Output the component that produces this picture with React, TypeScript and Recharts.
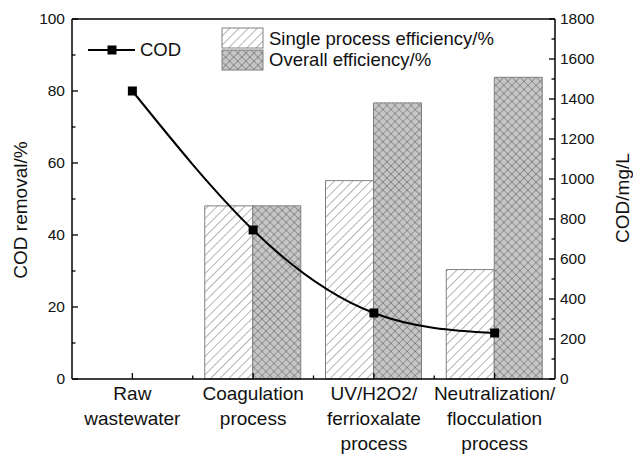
import React from "react";
import { ComposedChart, Bar, Line, XAxis, YAxis, ReferenceLine } from "recharts";

document.body.style.margin = "0";

const stages = ["Raw\nwastewater", "Coagulation\nprocess", "UV/H2O2/\nferrioxalate\nprocess", "Neutralization/\nflocculation\nprocess"];
const singleEff = [null, 48.1, 55.1, 30.4];
const overallEff = [null, 48.1, 76.7, 83.8];
const codValues = [1440, 745, 330, 230];
const leftTicks = [0, 10, 20, 30, 40, 50, 60, 70, 80, 90, 100];
const rightTicks = [0, 100, 200, 300, 400, 500, 600, 700, 800, 900, 1000, 1100, 1200, 1300, 1400, 1500, 1600, 1700, 1800];

const data = stages.map((stage, i) => ({
  stage,
  single: singleEff[i],
  overall: overallEff[i],
  cod: codValues[i],
}));

const FONT = "'Liberation Sans', Arial, sans-serif";

const LeftTick = (props: any) => {
  const { x, y, payload } = props;
  const major = payload.value % 20 === 0;
  return (
    <g>
      <line x1={x} x2={x + (major ? 6 : 3.5)} y1={y} y2={y} stroke="#000" strokeWidth={1.3} />
      {major && (
        <text x={x - 7} y={y} dy={5} textAnchor="end" fontSize={15.5} fontFamily={FONT} fill="#111">
          {payload.value}
        </text>
      )}
    </g>
  );
};

const RightTick = (props: any) => {
  const { x, y, payload } = props;
  const major = payload.value % 200 === 0;
  return (
    <g>
      <line x1={x} x2={x - (major ? 6 : 3.5)} y1={y} y2={y} stroke="#000" strokeWidth={1.3} />
      {major && (
        <text x={x + 5} y={y} dy={5} textAnchor="start" fontSize={15.5} fontFamily={FONT} fill="#111">
          {payload.value}
        </text>
      )}
    </g>
  );
};

const XTick = (props: any) => {
  const { x, y, payload, index } = props;
  const half = payload.offset || 60;
  const lines = String(payload.value).split("\n");
  return (
    <g>
      <line x1={x} x2={x} y1={y} y2={y - 6} stroke="#000" strokeWidth={1.3} />
      {index < stages.length - 1 && (
        <line x1={x + half} x2={x + half} y1={y} y2={y - 3.5} stroke="#000" strokeWidth={1.3} />
      )}
      <text x={x} y={y} textAnchor="middle" fontSize={19} fontFamily={FONT} fill="#111">
        {lines.map((l, i) => (
          <tspan key={i} x={x} dy={i === 0 ? 21 : 25}>
            {l}
          </tspan>
        ))}
      </text>
    </g>
  );
};

const SquareDot = (props: any) => {
  const { cx, cy, index } = props;
  return <rect key={index} x={cx - 4.5} y={cy - 4.5} width={9} height={9} fill="#000" />;
};

export default function App() {
  return (
    <div style={{ position: "relative", width: 633, height: 454, fontFamily: FONT, background: "#fff" }}>
      <ComposedChart
        width={633}
        height={454}
        data={data}
        margin={{ top: 19, right: 0, bottom: 0, left: 0 }}
        barGap={0}
      >
        <XAxis
          dataKey="stage"
          height={75}
          interval={0}
          axisLine={{ stroke: "#000", strokeWidth: 1.5 }}
          tickLine={false}
          tickSize={0}
          tickMargin={0}
          tick={<XTick />}
        />
        <YAxis
          yAxisId="left"
          domain={[0, 100]}
          ticks={leftTicks}
          interval={0}
          width={72}
          axisLine={{ stroke: "#000", strokeWidth: 1.5 }}
          tickLine={false}
          tickSize={0}
          tickMargin={0}
          tick={<LeftTick />}
        />
        <YAxis
          yAxisId="right"
          orientation="right"
          domain={[0, 1800]}
          ticks={rightTicks}
          interval={0}
          width={78}
          axisLine={{ stroke: "#000", strokeWidth: 1.5 }}
          tickLine={false}
          tickSize={0}
          tickMargin={0}
          tick={<RightTick />}
        />
        <ReferenceLine yAxisId="left" y={100} stroke="#000" strokeWidth={1.5} />
        <Bar yAxisId="left" dataKey="single" barSize={48} fill="url(#hatch)" stroke="#808080" strokeWidth={1} isAnimationActive={false} />
        <Bar yAxisId="left" dataKey="overall" barSize={48} fill="url(#cross)" stroke="#808080" strokeWidth={1} isAnimationActive={false} />
        <Line
          yAxisId="right"
          type="natural"
          dataKey="cod"
          stroke="#000"
          strokeWidth={2}
          dot={<SquareDot />}
          activeDot={false}
          isAnimationActive={false}
        />
      </ComposedChart>
      <svg
        width={633}
        height={454}
        style={{ position: "absolute", left: 0, top: 0, pointerEvents: "none" }}
      >
        <defs>
          <pattern id="hatch" width="6.5" height="6.5" patternUnits="userSpaceOnUse" patternTransform="rotate(45)">
            <rect width="6.5" height="6.5" fill="#fff" />
            <line x1="0" y1="0" x2="0" y2="6.5" stroke="#6a6a6a" strokeWidth="1" />
          </pattern>
          <pattern id="cross" width="5.7" height="5.7" patternUnits="userSpaceOnUse" patternTransform="rotate(45)">
            <rect width="5.7" height="5.7" fill="#c6c6c6" />
            <line x1="0" y1="0" x2="0" y2="5.7" stroke="#555" strokeWidth="0.9" />
            <line x1="0" y1="0" x2="5.7" y2="0" stroke="#555" strokeWidth="0.9" />
          </pattern>
        </defs>
        {/* axis titles */}
        <text x={20} y={210} transform="rotate(-90 20 210)" textAnchor="middle" dominantBaseline="central" fontSize={19} fontFamily={FONT} fill="#111">
          COD removal/%
        </text>
        <text x={622} y={198} transform="rotate(-90 622 198)" textAnchor="middle" dominantBaseline="central" fontSize={19} fontFamily={FONT} fill="#111">
          COD/mg/L
        </text>
        {/* legend */}
        <line x1={88} x2={135} y1={50} y2={50} stroke="#000" strokeWidth={2} />
        <rect x={107.5} y={45.5} width={9} height={9} fill="#000" />
        <text x={140} y={56} fontSize={18.5} fontFamily={FONT} fill="#111">COD</text>
        <rect x={222} y={28} width={41} height={20} fill="url(#hatch)" stroke="#808080" />
        <text x={269} y={45} fontSize={18.5} fontFamily={FONT} fill="#111">Single process efficiency/%</text>
        <rect x={222} y={50} width={41} height={20} fill="url(#cross)" stroke="#808080" />
        <text x={269} y={66} fontSize={18.5} fontFamily={FONT} fill="#111">Overall efficiency/%</text>
      </svg>
    </div>
  );
}
